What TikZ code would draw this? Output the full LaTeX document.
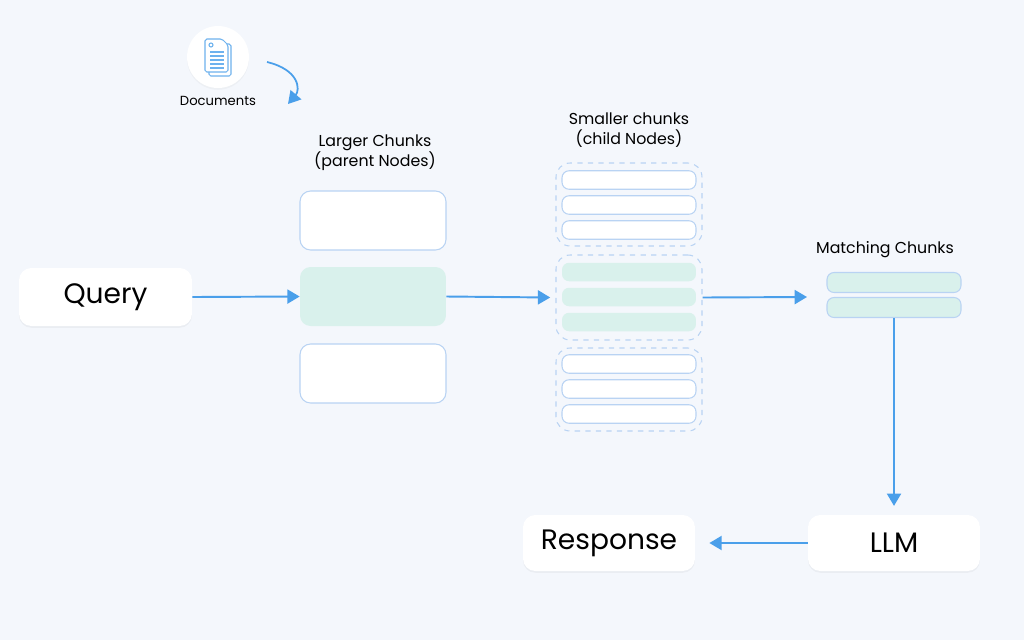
\documentclass[tikz,border=0pt]{standalone}
\usepackage{fontspec}
\setmainfont{Poppins}
\usetikzlibrary{arrows.meta,shadows}
\definecolor{bg}{HTML}{F4F7FC}
\definecolor{ln}{HTML}{4A9FEA}
\definecolor{bd}{HTML}{B9D3F3}
\definecolor{gr}{HTML}{D9F1EC}
\begin{document}
\begin{tikzpicture}[x=0.02cm,y=-0.02cm,
  arr/.style={draw=ln,line width=1.1pt,-{Triangle[length=7pt,width=8pt]}},
  big/.style={draw=none,fill=white,rounded corners=7pt,drop shadow={shadow xshift=0pt,shadow yshift=-1pt,opacity=0.08}},
  par/.style={draw=bd,fill=white,rounded corners=6pt,line width=0.6pt},
  bar/.style={draw=bd,fill=white,rounded corners=4pt,line width=0.6pt},
  gbar/.style={draw=none,fill=gr,rounded corners=4pt},
  grp/.style={draw=bd,dashed,rounded corners=8pt,line width=0.6pt},
  lbl/.style={font=\fontsize{9}{11.5}\selectfont,align=center},
  bt/.style={font=\fontsize{16}{18}\selectfont}]
\fill[bg] (0,0) rectangle (1024,640);
\useasboundingbox (0,0) rectangle (1024,640);
% documents
\node[circle,fill=white,minimum size=1.24cm,drop shadow={shadow xshift=0pt,shadow yshift=-1pt,opacity=0.06}] (doc) at (218,57) {};
\begin{scope}[draw=ln!80,line width=0.6pt]
\draw[rounded corners=1pt] (209,44) rectangle (231,76);
\draw[fill=white,rounded corners=1pt] (205,39) -- (222,39) -- (228,45) -- (228,72) -- (205,72) -- cycle;
\foreach \yy in {52,56,60,64,68} \draw (210,\yy) -- (224,\yy);
\draw (211,45) circle (2);
\end{scope}
\node[lbl,font=\fontsize{7.5}{9}\selectfont] (doclbl) at (218,101) {Documents};
\coordinate (cs) at (267,62);
\coordinate (ce) at (288,104);
\draw[arr,line width=1pt] (cs) .. controls (300,70) and (300,90) .. (ce);
% query
\node[big,minimum width=3.46cm,minimum height=1.16cm,bt] (q) at (105.5,297) {Query};
% parent
\node[lbl] (ptitle) at (375,153) {Larger Chunks\\(parent Nodes)};
\node[par,minimum width=2.92cm,minimum height=1.18cm] (p1) at (373,220.5) {};
\node[gbar,rounded corners=6pt,minimum width=2.92cm,minimum height=1.18cm] (p2) at (373,296.5) {};
\node[par,minimum width=2.92cm,minimum height=1.18cm] (p3) at (373,373.5) {};
% child
\node[lbl] (ctitle) at (629,130) {Smaller chunks\\(child Nodes)};
\node[grp,minimum width=2.92cm,minimum height=1.66cm] (g1) at (629,204.5) {};
\node[grp,minimum width=2.92cm,minimum height=1.7cm] (g2) at (629,297.5) {};
\node[grp,minimum width=2.92cm,minimum height=1.66cm] (g3) at (629,389.5) {};
\foreach \yy/\n in {180/a,205/b,230/c,364/g,389/h,414/i}
  \node[bar,minimum width=2.68cm,minimum height=0.37cm] (c\n) at (629,\yy) {};
\foreach \yy/\n in {272/d,297/e,322/f}
  \node[gbar,minimum width=2.68cm,minimum height=0.37cm] (c\n) at (629,\yy) {};
% matching
\node[lbl] (mtitle) at (885,250) {Matching Chunks};
\node[bar,fill=gr,minimum width=2.68cm,minimum height=0.4cm] (m1) at (894,282.5) {};
\node[bar,fill=gr,minimum width=2.68cm,minimum height=0.4cm] (m2) at (894,307.5) {};
\coordinate (mend) at (807,297);
% llm, response
\node[big,minimum width=3.44cm,minimum height=1.12cm,bt] (llm) at (894,543) {LLM};
\node[big,minimum width=3.44cm,minimum height=1.12cm,bt] (resp) at (609,543) {Response};
% arrows
\draw[arr] (q.east) -- (p2.west);
\draw[arr] (p2.east) -- ([xshift=-3pt]g2.west);
\draw[arr] (g2.east) -- (mend);
\draw[arr] (m2.south) -- ([yshift=5pt]llm.north);
\draw[arr] (llm.west) -- ([xshift=8pt]resp.east);
\end{tikzpicture}
\end{document}
